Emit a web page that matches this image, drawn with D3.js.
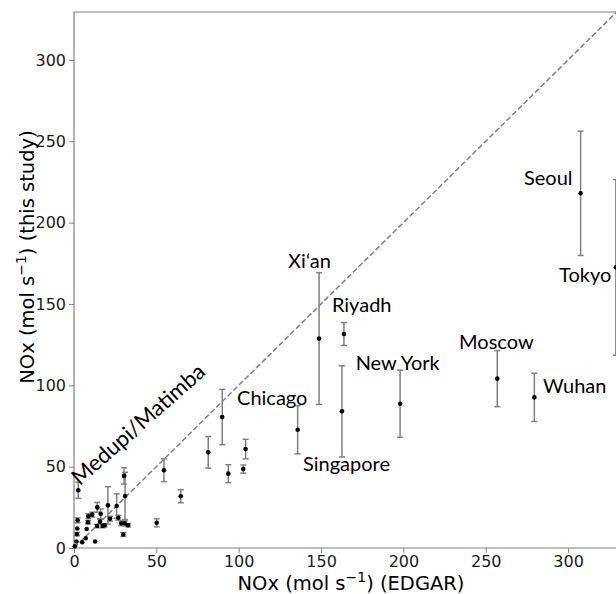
<!DOCTYPE html>
<html>
<head>
<script src="https://d3js.org/d3.v7.min.js"></script>
<style>
  body { margin: 0; background: #fff; }
  .tick text { font-family: "DejaVu Sans", sans-serif; font-size: 16px; fill: #1a1a1a; }
  .city { font-family: Lato, "Open Sans", sans-serif; font-size: 20px; fill: #000; }
  .axlabel { font-family: "DejaVu Sans", sans-serif; font-size: 19.5px; fill: #000; }
</style>
</head>
<body>
<div id="chart"></div>
<script>
// small unnamed sites: EDGAR x, this study y, error
var smallX   = [0.5, 1.5, 1.8, 2.0, 2.2, 5.0, 7.1, 7.7, 8.5, 8.7, 11.1, 12.8, 14.1, 14.0, 15.8, 16.2, 17.4, 18.6, 20.6, 21.9, 25.9, 26.9, 28.7, 29.9, 30.4, 31.0, 30.8, 32.8, 50.2, 54.6, 64.8, 81.5, 90.0, 93.7, 102.8, 104.2];
var smallY   = [1.0, 4.0, 8.5, 12.0, 17.0, 3.5, 6.0, 11.7, 15.8, 19.5, 20.5, 4.0, 25.0, 13.5, 16.2, 21.0, 13.5, 14.0, 26.2, 18.0, 25.8, 18.6, 15.2, 8.3, 44.3, 32.0, 15.2, 14.0, 15.5, 47.8, 31.8, 58.8, 80.5, 45.7, 48.5, 60.8];
var smallErr = [0, 0, 1, 0, 1.5, 0, 0, 0, 1, 1.5, 1.5, 0, 3, 1, 1.5, 3, 1, 1, 11.5, 1.5, 7.5, 1.5, 1.5, 1.2, 5, 14.5, 1.5, 1, 2.5, 7, 4, 9.7, 17, 5.5, 2.5, 6];

// Medupi/Matimba point
var medupi = [2.6, 35.5, 5];

// named cities
var cities   = ["Chicago", "Singapore", "Xi\u2018an", "Riyadh", "New York", "Moscow", "Wuhan", "Seoul", "Tokyo"];
var cityX    = [135.8, 162.7, 148.8, 163.9, 198.0, 257.0, 279.5, 307.6, 329.0];
var cityY    = [72.7, 84.0, 128.7, 131.5, 88.7, 104.1, 92.6, 218.0, 172.5];
var cityErr  = [14.8, 28.0, 40.5, 7.0, 20.6, 17.2, 14.8, 38.2, 54.0];
// label anchor (left, baseline) in data units
var labelX   = [99.0, 139.0, 130.0, 156.6, 171.0, 233.8, 284.8, 273.2, 294.5];
var labelY   = [87.9, 47.3, 172.0, 145.0, 109.4, 122.3, 95.3, 223.0, 163.5];

var xTicks = [0, 50, 100, 150, 200, 250, 300];
var yTicks = [0, 50, 100, 150, 200, 250, 300];

var width = 616, height = 594;
var margin = {left: 74, top: 12, bottom: 46};
var plotRight = 74 + 1.647 * 335;

var x = d3.scaleLinear().domain([0, 335]).range([margin.left, plotRight]);
var y = d3.scaleLinear().domain([0, 330]).range([height - margin.bottom, margin.top + (548 - 12 - 1.627 * 330)]);

var svg = d3.select('#chart').append('svg')
    .attr('width', width)
    .attr('height', height);

var grey = '#808080';

// 1:1 line
svg.append('line')
    .attr('x1', x(0)).attr('y1', y(0))
    .attr('x2', x(340)).attr('y2', y(340))
    .attr('stroke', grey)
    .attr('stroke-width', 1.5)
    .attr('stroke-dasharray', '5.5,2.5');

// axes
var xAxis = svg.append('g')
    .attr('transform', 'translate(0,' + y(0) + ')')
    .call(d3.axisBottom(x).tickValues(xTicks).tickSize(5).tickPadding(3));
var yAxis = svg.append('g')
    .attr('transform', 'translate(' + x(0) + ',0)')
    .call(d3.axisLeft(y).tickValues(yTicks).tickSize(5).tickPadding(3));
[xAxis, yAxis].forEach(function(a) {
    a.select('.domain').remove();
    a.selectAll('.tick line').attr('stroke', grey);
});

// frame
svg.append('line').attr('x1', x(0)).attr('x2', width).attr('y1', y(0)).attr('y2', y(0)).attr('stroke', grey).attr('stroke-width', 1.2);
svg.append('line').attr('x1', x(0)).attr('x2', width).attr('y1', margin.top).attr('y2', margin.top).attr('stroke', grey).attr('stroke-width', 1.2);
svg.append('line').attr('x1', x(0)).attr('x2', x(0)).attr('y1', margin.top).attr('y2', y(0)).attr('stroke', grey).attr('stroke-width', 1.2);

// combine all points
var pts = [];
smallX.forEach(function(d, i) { pts.push({x: d, y: smallY[i], e: smallErr[i]}); });
pts.push({x: medupi[0], y: medupi[1], e: medupi[2]});
cities.forEach(function(c, i) { pts.push({x: cityX[i], y: cityY[i], e: cityErr[i]}); });

var eb = svg.append('g').selectAll('g').data(pts.filter(function(d) { return d.e > 0; }))
    .enter().append('g').attr('stroke', grey).attr('stroke-width', 1.5);
eb.append('line')
    .attr('x1', function(d) { return x(d.x); }).attr('x2', function(d) { return x(d.x); })
    .attr('y1', function(d) { return y(d.y - d.e); }).attr('y2', function(d) { return y(d.y + d.e); });
eb.append('line')
    .attr('x1', function(d) { return x(d.x) - 3; }).attr('x2', function(d) { return x(d.x) + 3; })
    .attr('y1', function(d) { return y(d.y + d.e); }).attr('y2', function(d) { return y(d.y + d.e); });
eb.append('line')
    .attr('x1', function(d) { return x(d.x) - 3; }).attr('x2', function(d) { return x(d.x) + 3; })
    .attr('y1', function(d) { return y(d.y - d.e); }).attr('y2', function(d) { return y(d.y - d.e); });

svg.append('g').selectAll('circle').data(pts).enter().append('circle')
    .attr('cx', function(d) { return x(d.x); })
    .attr('cy', function(d) { return y(d.y); })
    .attr('r', 2.3)
    .attr('fill', '#000');

// city labels
svg.append('g').selectAll('text').data(cities).enter().append('text')
    .attr('class', 'city')
    .attr('x', function(d, i) { return x(labelX[i]); })
    .attr('y', function(d, i) { return y(labelY[i]); })
    .text(function(d) { return d; });

svg.append('text')
    .attr('class', 'city')
    .style('font-size', '22px')
    .attr('transform', 'translate(' + x(3.5) + ',' + y(38) + ') rotate(-41.5)')
    .text('Medupi/Matimba');

// axis labels
var xl = svg.append('text').attr('class', 'axlabel')
    .attr('x', 351).attr('y', 590).attr('text-anchor', 'middle');
xl.append('tspan').text('NOx (mol s');
xl.append('tspan').attr('dy', -8).attr('font-size', 14).text('\u22121');
xl.append('tspan').attr('dy', 8).text(') (EDGAR)');

var yl = svg.append('text').attr('class', 'axlabel')
    .attr('transform', 'translate(34,' + 257 + ') rotate(-90)')
    .attr('text-anchor', 'middle');
yl.append('tspan').text('NOx (mol s');
yl.append('tspan').attr('dy', -8).attr('font-size', 14).text('\u22121');
yl.append('tspan').attr('dy', 8).text(') (this study)');
</script>
</body>
</html>
